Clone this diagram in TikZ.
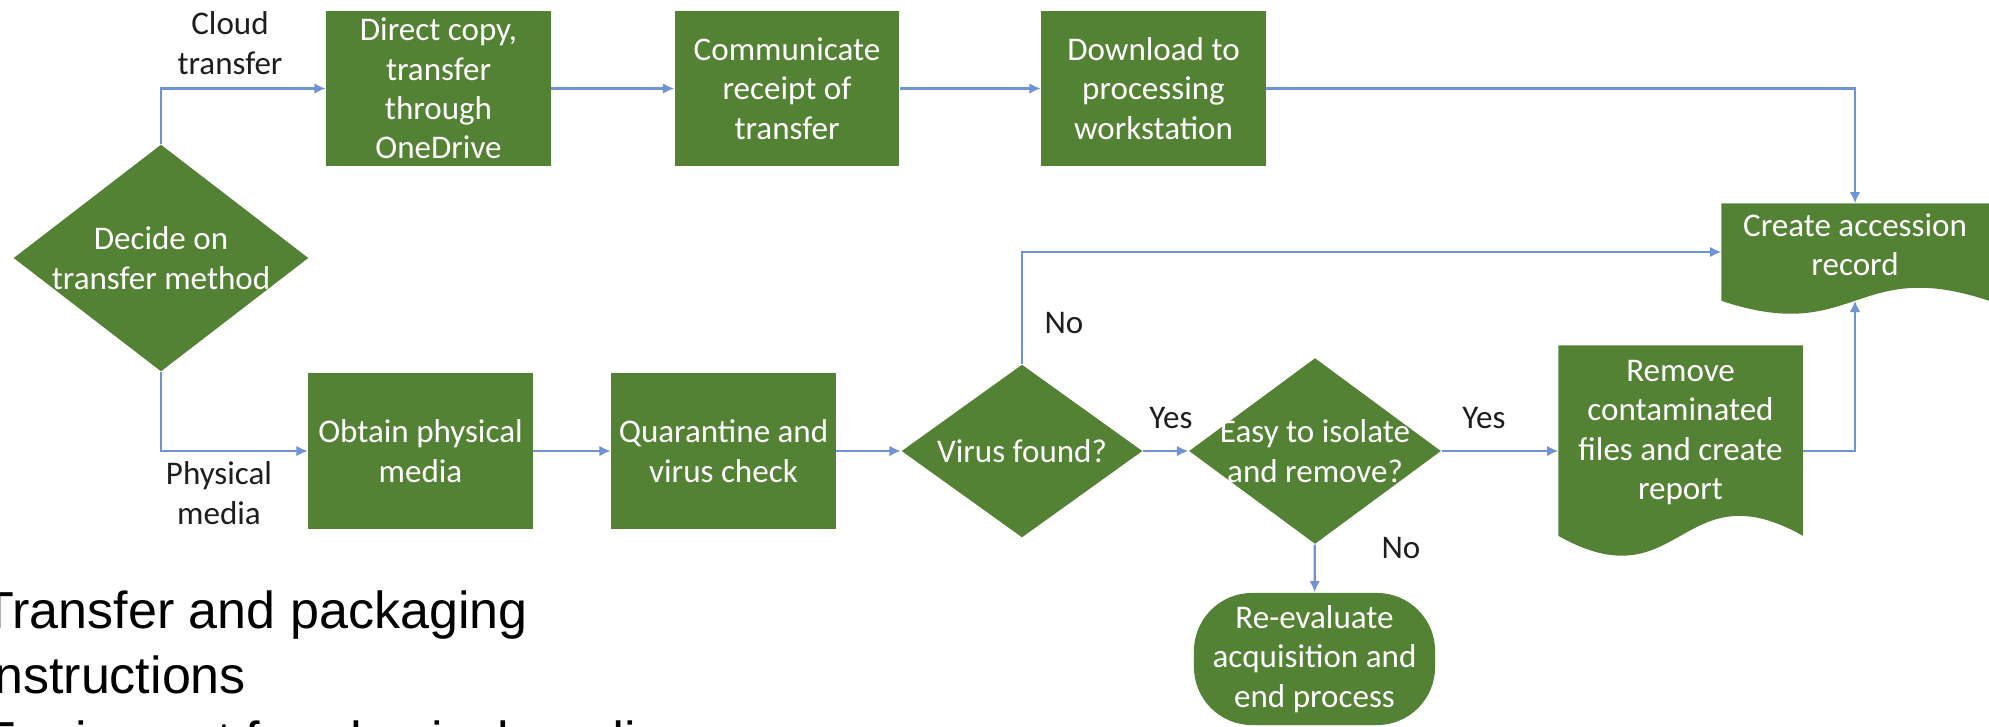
\documentclass[tikz,border=0pt]{standalone}
\usepackage{fontspec}
\setmainfont{Carlito}
\newfontfamily\slidefont{Liberation Sans}
\usetikzlibrary{shapes.geometric,arrows.meta,calc,backgrounds}
\definecolor{mygreen}{RGB}{84,130,53}
\definecolor{myblue}{RGB}{112,147,214}
\definecolor{mytext}{RGB}{30,30,30}

\begin{document}
\begin{tikzpicture}[x=0.01cm,y=-0.01cm,
  every node/.style={font=\fontsize{9.4}{11.2}\selectfont,align=center,inner sep=1pt},
  proc/.style={rectangle,fill=mygreen,text=white,inner sep=0pt,minimum width=2.24cm,minimum height=1.54cm},
  decision/.style={diamond,fill=mygreen,inner sep=0pt},
  doc/.style={rectangle,inner sep=0pt},
  lbl/.style={text=mytext},
  slide/.style={font=\slidefont\fontsize{14.8}{18.5}\selectfont,anchor=base west,inner sep=0pt,text=black},
  flow/.style={draw=myblue,line width=0.6pt,-{Latex[length=3.2pt,width=3pt]}}]
\useasboundingbox (0,0) rectangle (1989,726);
\clip (0,0) rectangle (1989,726);

% cloud branch
\node[decision,minimum width=2.95cm,minimum height=2.27cm,
  label={[text=white]center:{Decide on\\transfer method}}] (decide) at (161,258) {};
\node[proc] (direct) at (438.5,88.5) {Direct copy,\\transfer\\through\\OneDrive};
\node[proc] (communicate) at (787,88.5) {Communicate\\receipt of\\transfer};
\node[proc] (download) at (1153.5,88.5) {Download to\\processing\\workstation};
\node[doc,minimum width=2.66cm,minimum height=0.96cm,
  label={[text=white,yshift=0.07cm]center:{Create accession\\record}}] (accession) at (1855,252) {};

% physical branch
\node[proc,minimum height=1.55cm] (obtain) at (420.5,451) {Obtain physical\\media};
\node[proc,minimum height=1.55cm] (quarantine) at (723.5,451) {Quarantine and\\virus check};
\node[decision,minimum width=2.41cm,minimum height=1.73cm,
  label={[text=white]center:{Virus found?}}] (virus) at (1022,451) {};
\node[decision,minimum width=2.52cm,minimum height=1.86cm,
  label={[text=white]center:{Easy to isolate\\and remove?}}] (easy) at (1315,451) {};
\node[proc,rounded corners=0.58cm,minimum width=2.41cm,minimum height=1.32cm] (reeval) at (1314.5,659) {Re-evaluate\\acquisition and\\end process};
\node[doc,minimum width=2.43cm,minimum height=1.89cm,
  label={[text=white,yshift=0.08cm]center:{Remove\\contaminated\\files and create\\report}}] (remove) at (1680.5,440.5) {};

% wavy document shapes
\begin{pgfonlayer}{background}
\fill[mygreen] (accession.north west) -- (accession.north east) -- (accession.south east)
  .. controls ($(accession.south)+(0,-45)$) and ($(accession.south)+(0,45)$) .. (accession.south west) -- cycle;
\fill[mygreen] (remove.north west) -- (remove.north east) -- (remove.south east)
  .. controls ($(remove.south)+(0,-69)$) and ($(remove.south)+(0,69)$) .. (remove.south west) -- cycle;
\end{pgfonlayer}

% labels
\node[lbl] (cloud) at (230,43) {Cloud\\transfer};
\node[lbl] (physical) at (219,493) {Physical\\media};
\node[lbl] (no1) at (1064,323) {No};
\node[lbl] (yes1) at (1171,418) {Yes};
\node[lbl] (yes2) at (1484,418) {Yes};
\node[lbl] (no2) at (1401,548) {No};

% connectors
\draw[flow] (decide.north) |- (direct.west);
\draw[flow] (direct) -- (communicate);
\draw[flow] (communicate) -- (download);
\draw[flow] (download) -| (accession.north);
\draw[flow] (decide.south) |- (obtain.west);
\draw[flow] (obtain) -- (quarantine);
\draw[flow] (quarantine) -- (virus);
\draw[flow] (virus) -- (easy);
\draw[flow] (easy) -- (easy -| remove.west);
\draw[flow] (easy) -- (reeval);
\draw[flow] (virus.north) |- (accession.west);
\draw[flow] (remove.east |- easy) -| (accession.south);

% slide text below
\node[slide] (note1) at (-18,628) {Transfer and packaging};
\node[slide] (note2) at (-18,693) {instructions};
\node[slide] (note3) at (-18,758) {Equipment for physical media};
\end{tikzpicture}
\end{document}
